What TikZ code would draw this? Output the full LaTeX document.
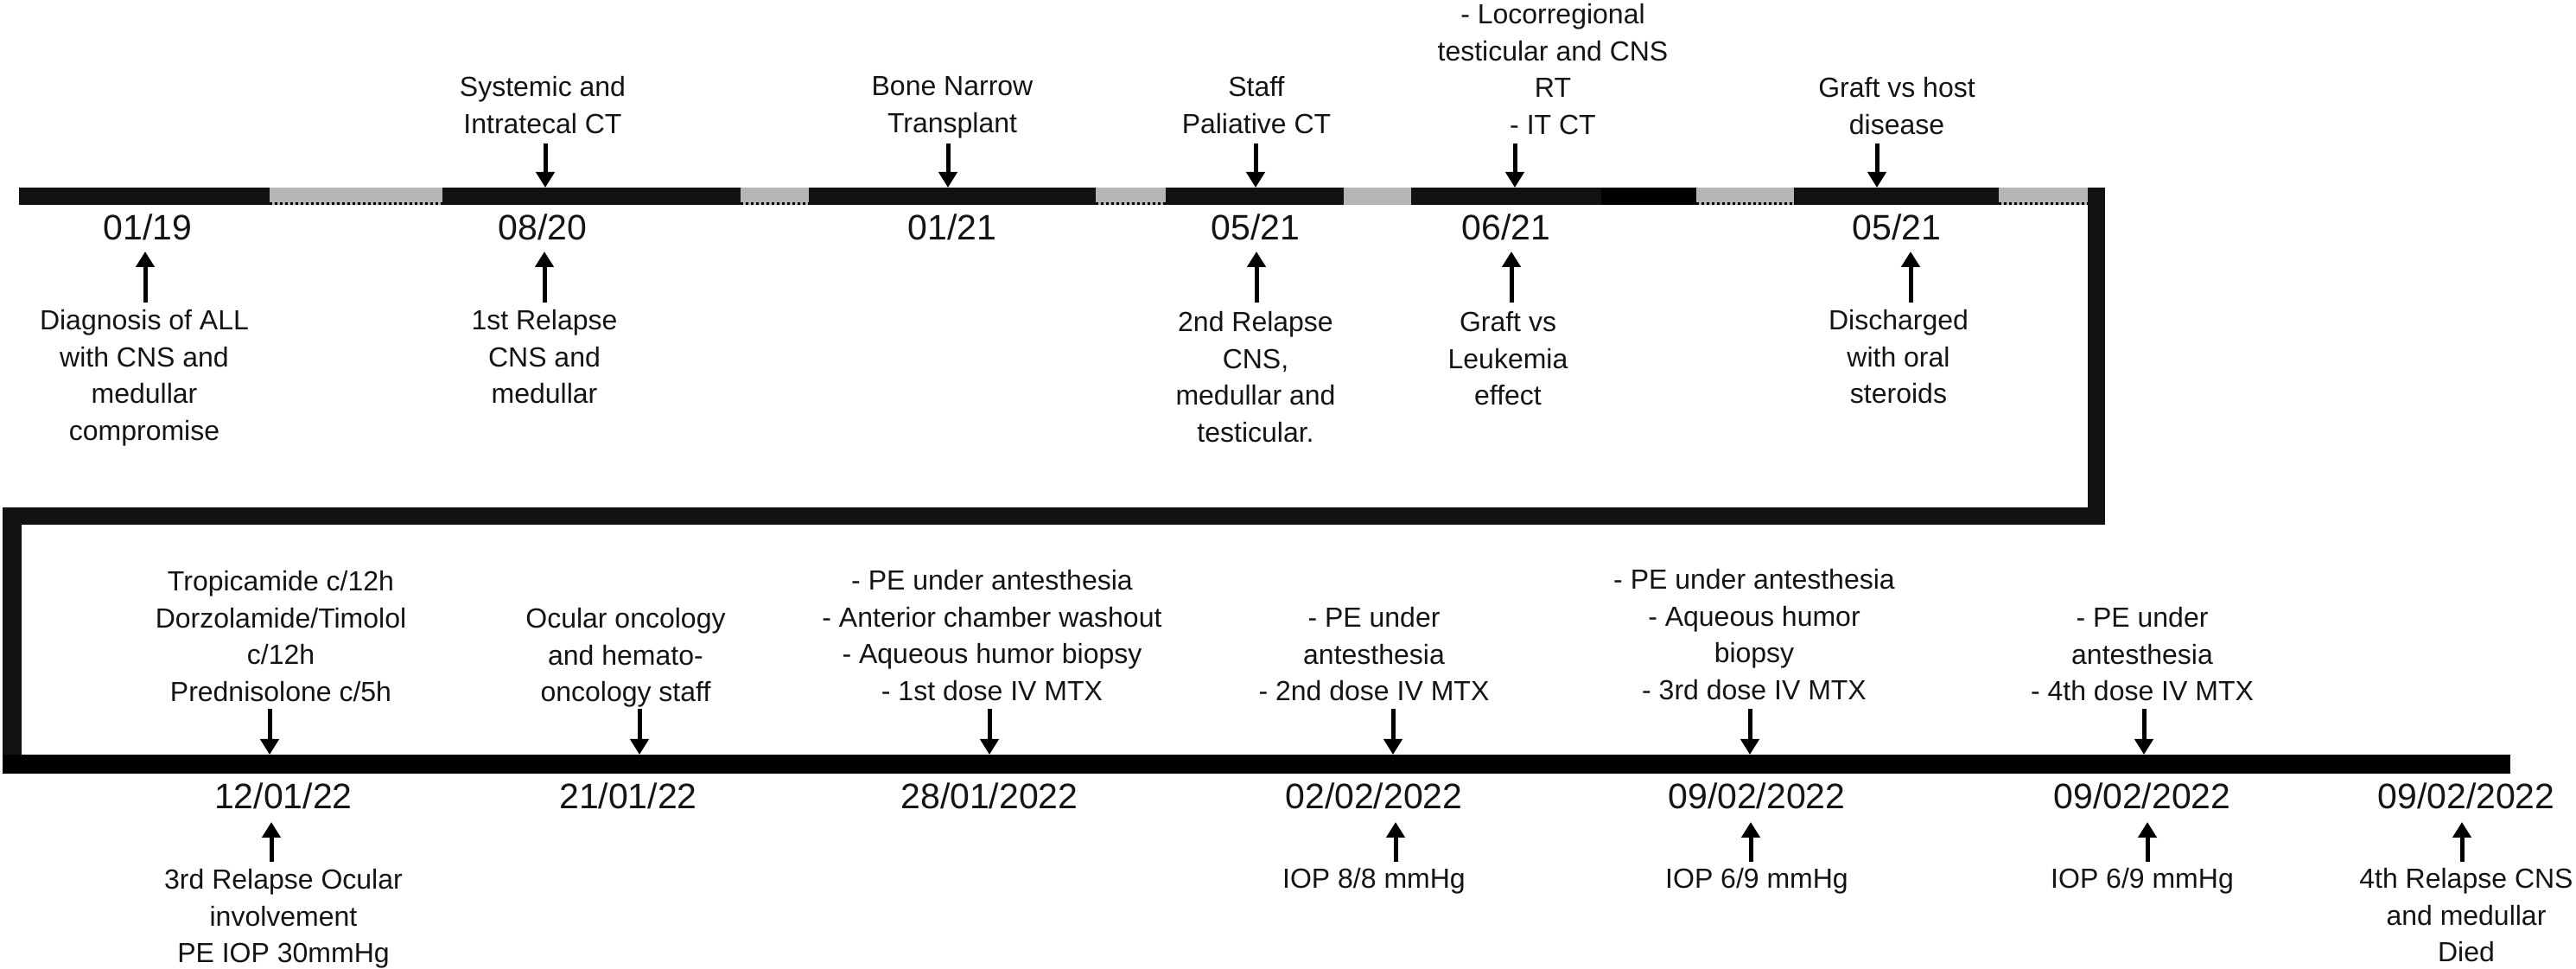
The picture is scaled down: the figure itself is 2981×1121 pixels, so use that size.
\documentclass[tikz,border=0pt]{standalone}
\usepackage{fontspec}
\setmainfont{Liberation Sans}
\usetikzlibrary{arrows.meta}
\definecolor{barblack}{HTML}{111111}
\definecolor{bargray}{HTML}{B5B5B5}
\definecolor{txt}{HTML}{141414}
\begin{document}
\begin{tikzpicture}[x=0.25pt,y=-0.25pt,
  lab/.style={font=\fontsize{8}{10.6}\selectfont, align=center, inner sep=0pt, anchor=north, text=txt},
  datelab/.style={font=\fontsize{10.25}{12}\selectfont, inner sep=0pt, text=txt},
  arr/.style={-{Triangle[width=5.25pt,length=4.5pt]}, line width=1.25pt, draw=black},
  blk/.style={fill=barblack},
  gry/.style={fill=bargray},
  dotline/.style={draw=black, line width=0.6pt, dash pattern=on 0.7pt off 0.8pt}]
\useasboundingbox (0,0) rectangle (2981,1121);

% ---- top bar ----
\fill[blk] (22,217) rectangle (312,237);
\fill[gry] (312,217) rectangle (512,237);
\fill[blk] (512,217) rectangle (857,237);
\fill[gry] (857,217) rectangle (936,237);
\fill[blk] (936,217) rectangle (1268,237);
\fill[gry] (1268,217) rectangle (1349,237);
\fill[blk] (1349,217) rectangle (1555,237);
\fill[gry] (1555,217) rectangle (1633,237);
\fill[blk] (1633,217) rectangle (1853,237);
\fill[black] (1853,217) rectangle (1963,237);
\fill[gry] (1963,217) rectangle (2076,237);
\fill[blk] (2076,217) rectangle (2313,237);
\fill[gry] (2313,217) rectangle (2416,237);
\foreach \a/\b in {312/512, 857/936, 1268/1349, 1963/2076, 2313/2416}
  \draw[dotline] (\a,235.5) -- (\b,235.5);

% ---- connector ----
\fill[blk] (2416,217) rectangle (2436,607);
\fill[blk] (3,587) rectangle (2436,607);
\fill[blk] (3,587) rectangle (25,895);

% ---- bottom bar ----
\fill[black] (3,873) rectangle (2905,895);

% ---- top row: labels above ----
\node[lab] (t1) at (628,88) {Systemic and\\Intratecal CT};
\node[lab] (t2) at (1102,88) {Bone Narrow\\Transplant};
\node[lab] (t3) at (1454,88) {Staff\\Paliative CT};
\node[lab] (t4) at (1797,4) {- Locorregional\\testicular and CNS\\RT\\- IT CT};
\node[lab] (t5) at (2195,89) {Graft vs host\\disease};

% ---- top row: dates ----
\node[datelab] (d1) at (171,263) {01/19};
\node[datelab] (d2) at (628,263) {08/20};
\node[datelab] (d3) at (1102,263) {01/21};
\node[datelab] (d4) at (1453,263) {05/21};
\node[datelab] (d5) at (1743,263) {06/21};
\node[datelab] (d6) at (2195,263) {05/21};

% ---- top row: labels below ----
\node[lab] (b1) at (167,358) {Diagnosis of ALL\\with CNS and\\medullar\\compromise};
\node[lab] (b2) at (630,358) {1st Relapse\\CNS and\\medullar};
\node[lab] (b3) at (1453,360) {2nd Relapse\\CNS,\\medullar and\\testicular.};
\node[lab] (b4) at (1745,360) {Graft vs\\Leukemia\\effect};
\node[lab] (b5) at (2197,358) {Discharged\\with oral\\steroids};

% ---- bottom row: labels above ----
\node[lab] (c1) at (325,660) {Tropicamide c/12h\\Dorzolamide/Timolol\\c/12h\\Prednisolone c/5h};
\node[lab] (c2) at (724,703) {Ocular oncology\\and hemato-\\oncology staff};
\node[lab] (c3) at (1148,659) {- PE under antesthesia\\- Anterior chamber washout\\- Aqueous humor biopsy\\- 1st dose IV MTX};
\node[lab] (c4) at (1590,702) {- PE under\\antesthesia\\- 2nd dose IV MTX};
\node[lab] (c5) at (2030,658) {- PE under antesthesia\\- Aqueous humor\\biopsy\\- 3rd dose IV MTX};
\node[lab] (c6) at (2479,702) {- PE under\\antesthesia\\- 4th dose IV MTX};

% ---- bottom row: dates ----
\node[datelab] (e1) at (328,921) {12/01/22};
\node[datelab] (e2) at (727,921) {21/01/22};
\node[datelab] (e3) at (1145,921) {28/01/2022};
\node[datelab] (e4) at (1590,921) {02/02/2022};
\node[datelab] (e5) at (2033,921) {09/02/2022};
\node[datelab] (e6) at (2479,921) {09/02/2022};
\node[datelab] (e7) at (2854,921) {09/02/2022};

% ---- bottom row: labels below ----
\node[lab] (f1) at (328,1005) {3rd Relapse Ocular\\involvement\\PE IOP 30mmHg};
\node[lab] (f2) at (1590,1004) {IOP 8/8 mmHg};
\node[lab] (f3) at (2033,1004) {IOP 6/9 mmHg};
\node[lab] (f4) at (2479,1004) {IOP 6/9 mmHg};
\node[lab] (f5) at (2854,1004) {4th Relapse CNS\\and medullar\\Died};

% ---- arrows ----
% top row, downward onto the bar
\foreach \x [count=\i] in {631,1097,1453,1753,2172} {
  \coordinate (tds\i) at (\x,166);
  \coordinate (tde\i) at (\x,217);
  \draw[arr] (tds\i) -- (tde\i);
}
% top row, upward towards dates
\foreach \x [count=\i] in {168,630,1454,1749,2211} {
  \coordinate (tus\i) at (\x,350);
  \coordinate (tue\i) at (\x,291);
  \draw[arr] (tus\i) -- (tue\i);
}
% bottom row, downward onto the bar
\foreach \x [count=\i] in {312,740,1145,1612,2025,2481} {
  \coordinate (bds\i) at (\x,820);
  \coordinate (bde\i) at (\x,873);
  \draw[arr] (bds\i) -- (bde\i);
}
% bottom row, upward towards dates
\foreach \x [count=\i] in {314,1615,2026,2485,2849} {
  \coordinate (bus\i) at (\x,997);
  \coordinate (bue\i) at (\x,951);
  \draw[arr] (bus\i) -- (bue\i);
}
\end{tikzpicture}
\end{document}
